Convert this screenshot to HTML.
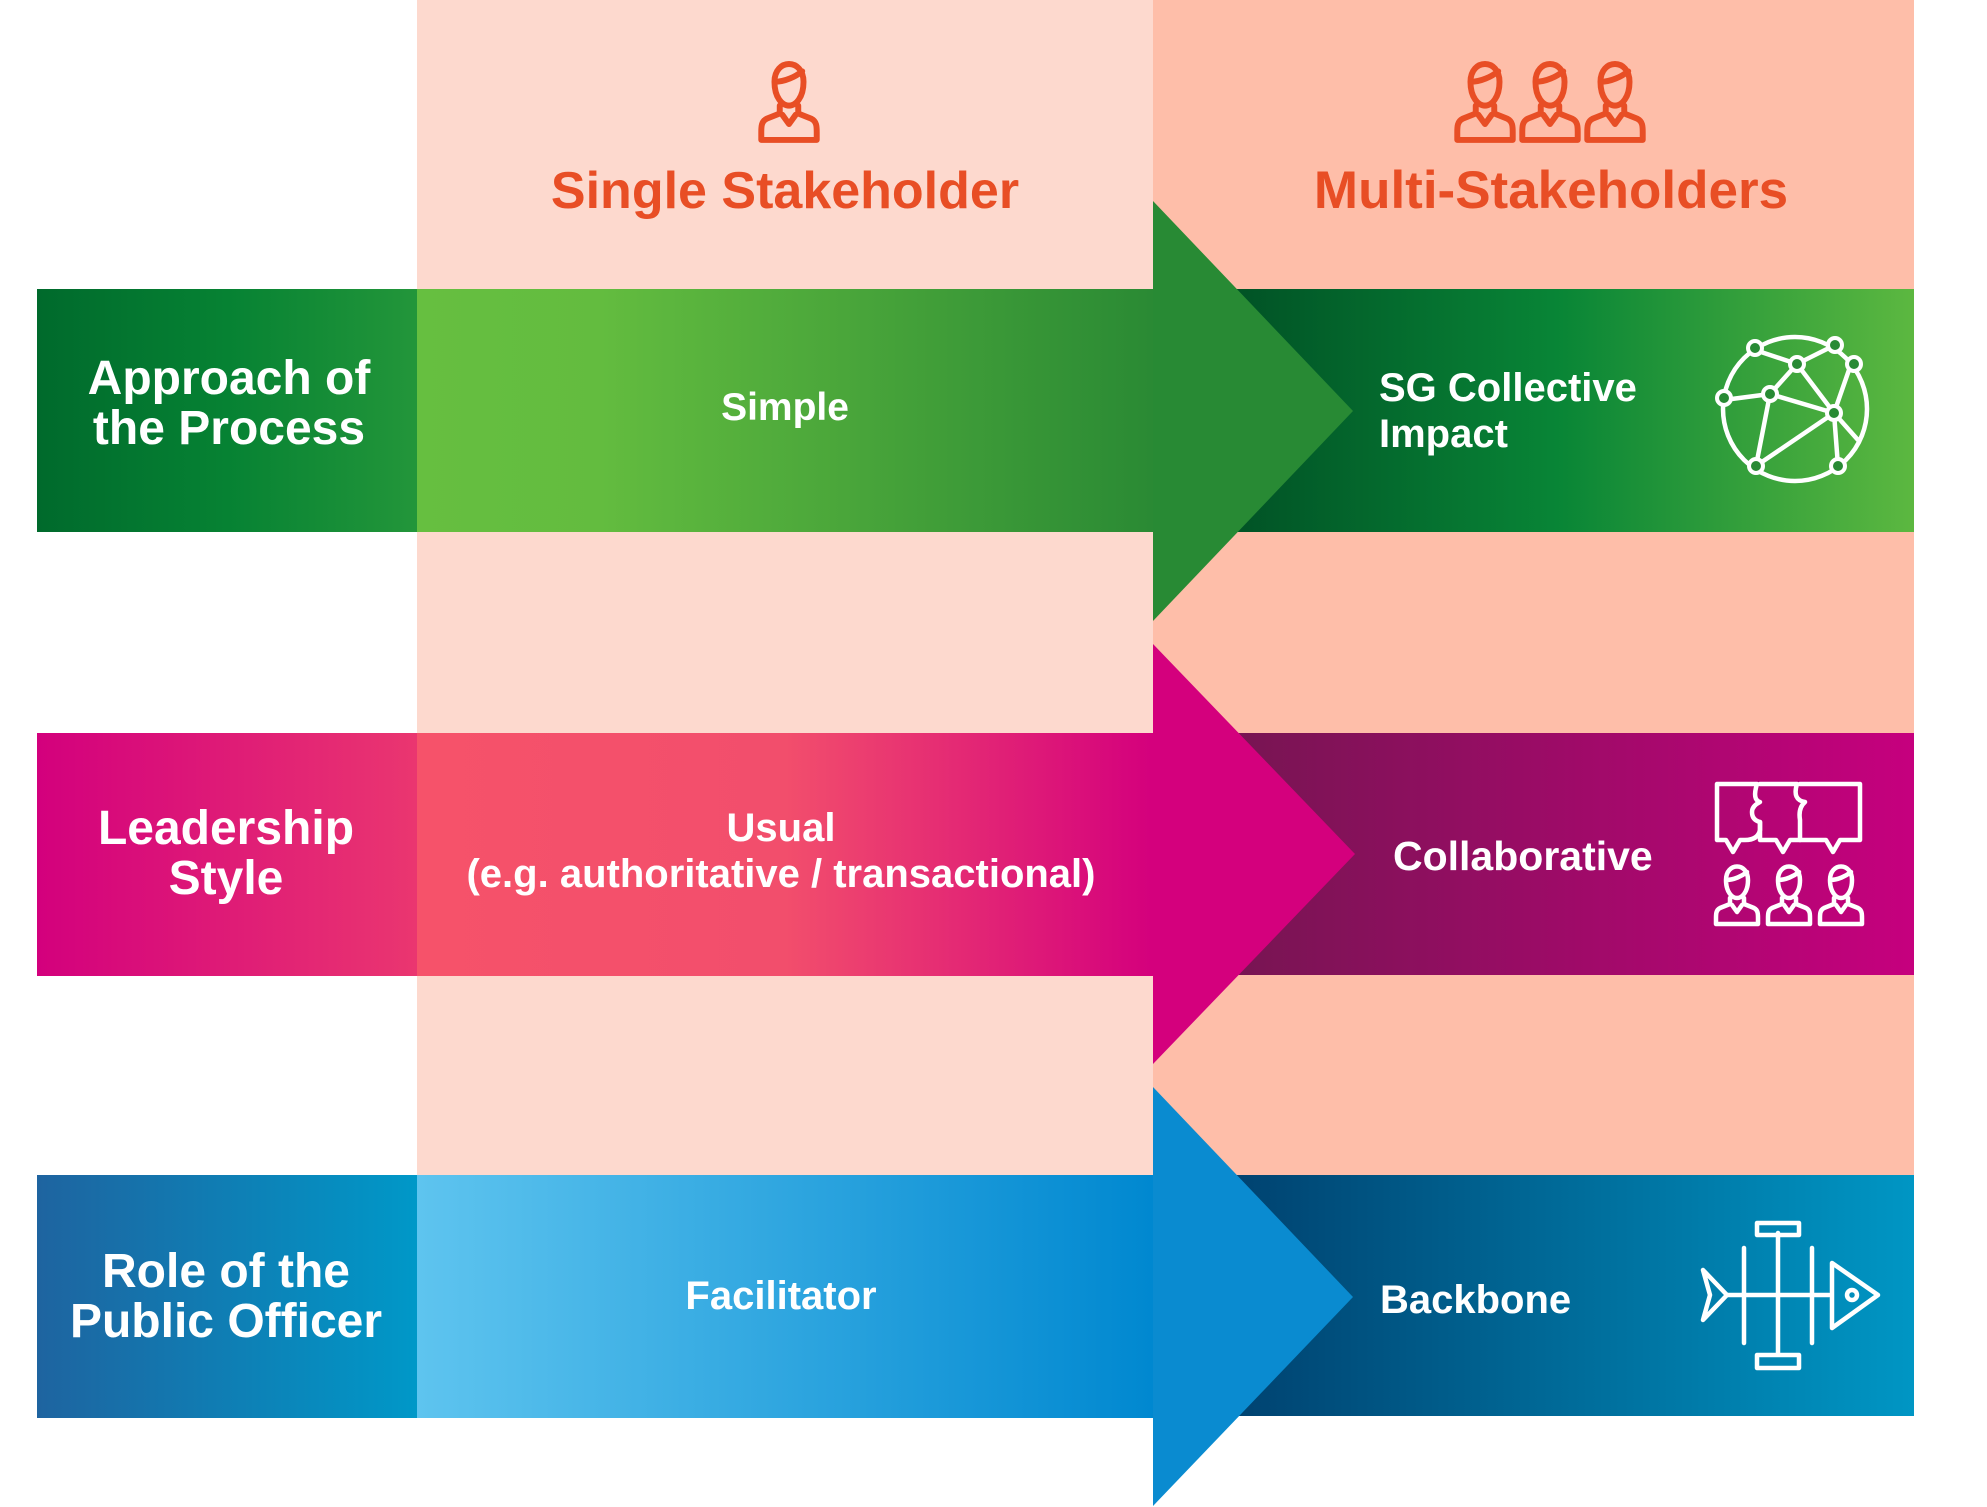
<!DOCTYPE html>
<html><head><meta charset="utf-8"><style>
html,body{margin:0;padding:0;background:#fff}
svg{display:block}
text{font-family:"Liberation Sans",sans-serif;font-weight:bold}
</style></head><body>
<svg width="1987" height="1507" viewBox="0 0 1987 1507" xmlns="http://www.w3.org/2000/svg">
<defs>
<linearGradient id="g1l" x1="0" x2="1"><stop offset="0" stop-color="#006A2C"/><stop offset="0.5" stop-color="#068233"/><stop offset="1" stop-color="#23963A"/></linearGradient>
<linearGradient id="g1m" x1="0" x2="1"><stop offset="0" stop-color="#66BF40"/><stop offset="0.25" stop-color="#63BC3F"/><stop offset="1" stop-color="#2A8A34"/></linearGradient>
<linearGradient id="g1r" x1="0" x2="1"><stop offset="0" stop-color="#004D24"/><stop offset="0.5" stop-color="#088536"/><stop offset="1" stop-color="#5CB840"/></linearGradient>
<linearGradient id="g2l" x1="0" x2="1"><stop offset="0" stop-color="#D3007D"/><stop offset="1" stop-color="#EA3670"/></linearGradient>
<linearGradient id="g2m" x1="0" x2="1"><stop offset="0" stop-color="#F6526A"/><stop offset="0.5" stop-color="#F24E6C"/><stop offset="1" stop-color="#D4007D"/></linearGradient>
<linearGradient id="g2r" x1="0" x2="1"><stop offset="0" stop-color="#731650"/><stop offset="1" stop-color="#C6007E"/></linearGradient>
<linearGradient id="g3l" x1="0" x2="1"><stop offset="0" stop-color="#1E64A0"/><stop offset="1" stop-color="#0098C8"/></linearGradient>
<linearGradient id="g3m" x1="0" x2="1"><stop offset="0" stop-color="#5EC4EF"/><stop offset="1" stop-color="#0088D0"/></linearGradient>
<linearGradient id="g3r" x1="0" x2="1"><stop offset="0" stop-color="#003E6C"/><stop offset="1" stop-color="#0096C4"/></linearGradient>
<symbol id="person" viewBox="0 0 50 70">
<path d="M14 22 C14 4 36 4 36 22 C36 34 30 40 25 40 C20 40 14 34 14 22 Z M14 22 C22 22 30 18 35 14" fill="none" stroke-width="4.5" stroke-linecap="round"/>
<path d="M18 40 L18 46 L8 50 C4 52 4 56 4 60 L4 66 L46 66 L46 60 C46 56 46 52 42 50 L32 46 L32 40 M20 47 L25 54 L30 47" fill="none" stroke-width="4.5" stroke-linecap="round" stroke-linejoin="round"/>
</symbol>
</defs>
<rect x="417" y="0" width="736" height="1175" fill="#FDD9CE"/>
<rect x="1153" y="0" width="761" height="1175" fill="#FEBEA9"/>
<use href="#person" x="756" y="52" width="66" height="94" stroke="#E84E25"/>
<use href="#person" x="1452" y="52" width="66" height="94" stroke="#E84E25"/>
<use href="#person" x="1517" y="52" width="66" height="94" stroke="#E84E25"/>
<use href="#person" x="1582" y="52" width="66" height="94" stroke="#E84E25"/>
<text x="785" y="208" font-size="52" fill="#E84E25" text-anchor="middle">Single Stakeholder</text>
<text x="1551" y="208" font-size="53" fill="#E84E25" text-anchor="middle">Multi-Stakeholders</text>

<rect x="37" y="289" width="380" height="243" fill="url(#g1l)"/>
<rect x="417" y="289" width="736" height="243" fill="url(#g1m)"/>
<rect x="1200" y="289" width="714" height="243" fill="url(#g1r)"/>
<polygon points="1153,201 1353,411 1153,621" fill="#288A34"/>
<text x="229" y="394" font-size="48" fill="#fff" text-anchor="middle">Approach of</text>
<text x="229" y="444" font-size="48" fill="#fff" text-anchor="middle">the Process</text>
<text x="785" y="420" font-size="39" fill="#fff" text-anchor="middle">Simple</text>
<text x="1379" y="401" font-size="40" fill="#fff">SG Collective</text>
<text x="1379" y="447" font-size="40" fill="#fff">Impact</text>
<g fill="none" stroke="#fff" stroke-width="4.5" stroke-linecap="round">
<circle cx="1795" cy="409" r="72"/>
<path d="M1755 350 L1797 364 L1835 345 M1797 364 L1770 394 L1724 400 M1770 394 L1834 413 L1850 367 M1797 364 L1834 413 L1858 440 M1770 394 L1756 466 L1834 413 L1838 466"/>
</g>
<g fill="#288A34" stroke="#fff" stroke-width="4">
<circle cx="1755" cy="348" r="7"/><circle cx="1835" cy="345" r="7"/><circle cx="1797" cy="364" r="7"/><circle cx="1854" cy="364" r="7"/><circle cx="1724" cy="398" r="7"/><circle cx="1770" cy="394" r="7"/><circle cx="1834" cy="413" r="7"/><circle cx="1756" cy="466" r="7"/><circle cx="1838" cy="466" r="7"/>
</g>

<rect x="37" y="733" width="380" height="243" fill="url(#g2l)"/>
<rect x="417" y="733" width="736" height="243" fill="url(#g2m)"/>
<rect x="1200" y="733" width="714" height="242" fill="url(#g2r)"/>
<polygon points="1153,644 1355,854 1153,1064" fill="#D4007D"/>
<text x="226" y="844" font-size="48" fill="#fff" text-anchor="middle">Leadership</text>
<text x="226" y="894" font-size="48" fill="#fff" text-anchor="middle">Style</text>
<text x="781" y="841" font-size="40" fill="#fff" text-anchor="middle">Usual</text>
<text x="781" y="887" font-size="40" fill="#fff" text-anchor="middle">(e.g. authoritative / transactional)</text>
<text x="1393" y="870" font-size="41" fill="#fff">Collaborative</text>
<g fill="none" stroke="#fff" stroke-width="4.5" stroke-linecap="round" stroke-linejoin="round">
<path d="M1717 784 L1757 784 Q1752 800 1760 802 Q1752 806 1752 812 Q1752 820 1760 822 L1760 830 Q1758 840 1745 840 L1740 840 L1733 852 L1726 840 L1717 840 Z"/>
<path d="M1760 784 L1797 784 Q1792 800 1805 802 Q1798 808 1800 820 L1800 840 L1790 840 L1783 852 L1776 840 L1760 840 L1760 822"/>
<path d="M1800 784 L1860 784 L1860 840 L1840 840 L1833 852 L1826 840 L1800 840"/>
</g>
<use href="#person" x="1712" y="858" width="50" height="70" stroke="#fff"/>
<use href="#person" x="1764" y="858" width="50" height="70" stroke="#fff"/>
<use href="#person" x="1816" y="858" width="50" height="70" stroke="#fff"/>

<rect x="37" y="1175" width="380" height="243" fill="url(#g3l)"/>
<rect x="417" y="1175" width="736" height="243" fill="url(#g3m)"/>
<rect x="1200" y="1175" width="714" height="241" fill="url(#g3r)"/>
<polygon points="1153,1087 1353,1297 1153,1506" fill="#0A8BD0"/>
<text x="226" y="1287" font-size="48" fill="#fff" text-anchor="middle">Role of the</text>
<text x="226" y="1337" font-size="48" fill="#fff" text-anchor="middle">Public Officer</text>
<text x="781" y="1309" font-size="40" fill="#fff" text-anchor="middle">Facilitator</text>
<text x="1380" y="1313" font-size="40" fill="#fff">Backbone</text>
<g fill="none" stroke="#fff" stroke-width="4.5" stroke-linecap="round" stroke-linejoin="round">
<path d="M1727 1295 L1829 1295 M1778 1233 L1778 1353 M1744 1248 L1744 1343 M1812 1248 L1812 1343"/>
<rect x="1757" y="1223" width="42" height="12"/><rect x="1757" y="1355" width="42" height="13"/>
<path d="M1703 1270 L1710 1295 L1703 1320 L1727 1295 Z"/>
<path d="M1832 1263 L1832 1328 L1878 1295 Z"/>
<circle cx="1852" cy="1295" r="5"/>
</g>
</svg>
</body></html>
